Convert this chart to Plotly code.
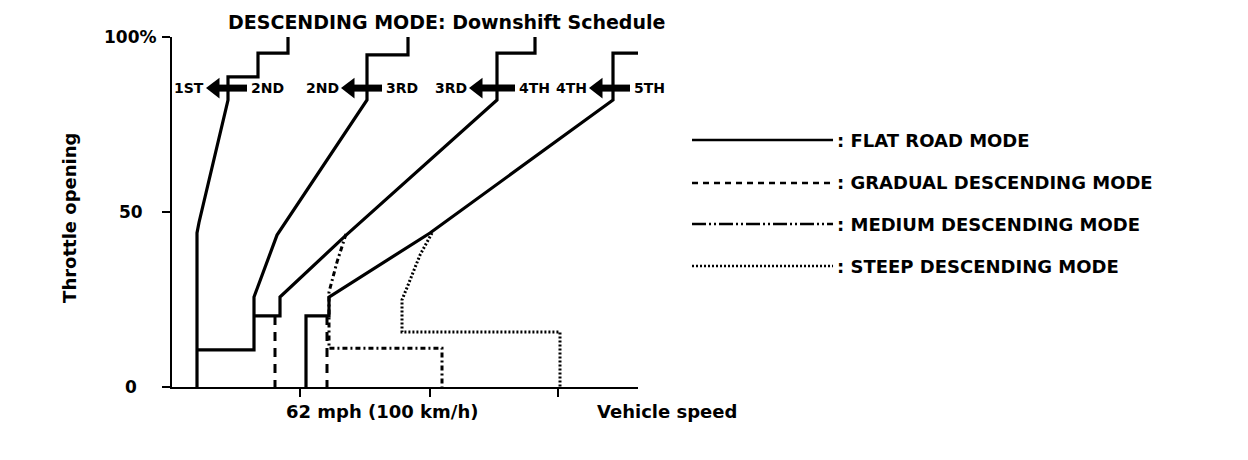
import plotly.graph_objects as go

# ---- data (speed in arbitrary axis units 0..466, throttle opening in %) ----
flat1_x = [25, 25, 27, 56, 56, 86, 86, 116, 116]
flat1_y = [0, 44, 47, 82, 88.6, 88.6, 95.4, 95.4, 100]

flat2_x = [25, 82, 82, 105, 195, 195, 236, 236]
flat2_y = [10.6, 10.6, 25.7, 43.4, 82, 94.9, 94.9, 100]

flat3_x = [82, 108, 108, 173, 325, 325, 363, 363]
flat3_y = [20.3, 20.3, 25.7, 43.1, 82, 95.4, 95.4, 100]

flat4_x = [134, 134, 157, 157, 258, 441, 441, 466]
flat4_y = [0, 20.3, 20.3, 25.7, 44, 82, 95.4, 95.4]

gradual_x = [103, 103, None, 155, 155]
gradual_y = [20.3, 0, None, 20.3, 0]

medium_x = [174, 165, 157, 157, 270, 270]
medium_y = [43.7, 35.7, 27.1, 11.1, 11.1, 0]

steep_x = [260, 248, 236, 230, 230, 388, 388]
steep_y = [44, 37.7, 29.1, 24.9, 15.7, 15.7, 0]

# downshift arrows
arrow_tip_x = [35, 170, 298, 418]
arrow_tail_x = [75, 210, 343, 458]
arrow_y = 85.4
gear_low = ["1ST", "2ND", "3RD", "4TH"]
gear_high = ["2ND", "3RD", "4TH", "5TH"]

x_ticks = [128, 258, 386]
y_ticks = [0, 50, 100]
y_tick_labels = ["0", "50", "100%"]

legend_names = [": FLAT ROAD MODE", ": GRADUAL DESCENDING MODE",
                ": MEDIUM DESCENDING MODE", ": STEEP DESCENDING MODE"]
legend_dash = ["solid", "6px,5px", "14px,3px,2px,3px,2px,3px", "2px,2px"]

FONT = "DejaVu Sans"
BLK = "black"

fig = go.Figure()

for xs, ys in [(flat1_x, flat1_y), (flat2_x, flat2_y), (flat3_x, flat3_y), (flat4_x, flat4_y)]:
    fig.add_trace(go.Scatter(x=xs, y=ys, mode="lines", line=dict(color=BLK, width=3.2),
                             showlegend=False, hoverinfo="skip"))

fig.add_trace(go.Scatter(x=gradual_x, y=gradual_y, mode="lines",
                         line=dict(color=BLK, width=3, dash="9px,7px"),
                         showlegend=False, hoverinfo="skip"))
fig.add_trace(go.Scatter(x=medium_x, y=medium_y, mode="lines",
                         line=dict(color=BLK, width=3, dash="5px,3px,2px,3px"),
                         showlegend=False, hoverinfo="skip"))
fig.add_trace(go.Scatter(x=steep_x, y=steep_y, mode="lines",
                         line=dict(color=BLK, width=3, dash="2px,2px"),
                         showlegend=False, hoverinfo="skip"))

# arrows: body + head
body_x, body_y = [], []
for t, e in zip(arrow_tip_x, arrow_tail_x):
    body_x += [t + 10, e, None]
    body_y += [arrow_y, arrow_y, None]
fig.add_trace(go.Scatter(x=body_x, y=body_y, mode="lines", line=dict(color=BLK, width=7),
                         showlegend=False, hoverinfo="skip"))
fig.add_trace(go.Scatter(x=[t + 8 for t in arrow_tip_x], y=[arrow_y] * len(arrow_tip_x),
                         mode="markers", marker=dict(symbol="triangle-left", size=18, color=BLK),
                         showlegend=False, hoverinfo="skip", cliponaxis=False))

ann = []
for t, e, lo, hi in zip(arrow_tip_x, arrow_tail_x, gear_low, gear_high):
    ann.append(dict(x=t - 1, y=arrow_y, xref="x", yref="y", text="<b>%s</b>" % lo, showarrow=False,
                    xanchor="right", yanchor="middle", font=dict(family=FONT, size=14, color=BLK)))
    ann.append(dict(x=e + 2, y=arrow_y, xref="x", yref="y", text="<b>%s</b>" % hi, showarrow=False,
                    xanchor="left", yanchor="middle", font=dict(family=FONT, size=14, color=BLK)))

for v, lab in zip(y_ticks, y_tick_labels):
    ann.append(dict(x=-0.088, y=v, xref="paper", yref="y", text="<b>%s</b>" % lab, showarrow=False,
                    xanchor="center", yanchor="middle", font=dict(family=FONT, size=17, color=BLK)))

ann.append(dict(x=0.588, y=1.043, xref="paper", yref="paper",
                text="<b>DESCENDING MODE: Downshift Schedule</b>", showarrow=False,
                xanchor="center", yanchor="middle", font=dict(family=FONT, size=19, color=BLK)))
ann.append(dict(x=-0.219, y=0.483, xref="paper", yref="paper", text="<b>Throttle opening</b>",
                textangle=-90, showarrow=False, xanchor="center", yanchor="middle",
                font=dict(family=FONT, size=18, color=BLK)))
ann.append(dict(x=0.4506, y=-0.069, xref="paper", yref="paper", text="<b>62 mph (100 km/h)</b>",
                showarrow=False, xanchor="center", yanchor="middle",
                font=dict(family=FONT, size=18, color=BLK)))
ann.append(dict(x=1.062, y=-0.069, xref="paper", yref="paper", text="<b>Vehicle speed</b>",
                showarrow=False, xanchor="center", yanchor="middle",
                font=dict(family=FONT, size=18, color=BLK)))

# legend (drawn manually)
legend_rows_y = [0.7057, 0.5829, 0.4657, 0.3457]
shapes = []
for yy, name, dash in zip(legend_rows_y, legend_names, legend_dash):
    shapes.append(dict(type="line", xref="paper", yref="paper", x0=1.1159, x1=1.4185, y0=yy, y1=yy,
                       line=dict(color=BLK, width=2.5, dash=dash)))
    ann.append(dict(x=1.4227, y=yy, xref="paper", yref="paper", text="<b>%s</b>" % name,
                    showarrow=False, xanchor="left", yanchor="middle",
                    font=dict(family=FONT, size=18, color=BLK)))

fig.update_layout(
    width=1240, height=452,
    margin=dict(l=164, r=610, t=29, b=73),
    paper_bgcolor="white", plot_bgcolor="white",
    showlegend=False,
    annotations=ann, shapes=shapes,
    xaxis=dict(range=[0, 466], showgrid=False, zeroline=False, showline=True, linecolor=BLK,
               linewidth=2, ticks="outside", tickvals=x_ticks, ticklen=8, tickwidth=2,
               tickcolor=BLK, showticklabels=False),
    yaxis=dict(range=[0, 100], showgrid=False, zeroline=False, showline=True, linecolor=BLK,
               linewidth=2, ticks="outside", tickvals=y_ticks, ticklen=8, tickwidth=2,
               tickcolor=BLK, showticklabels=False),
)

fig.write_html("out.html")
